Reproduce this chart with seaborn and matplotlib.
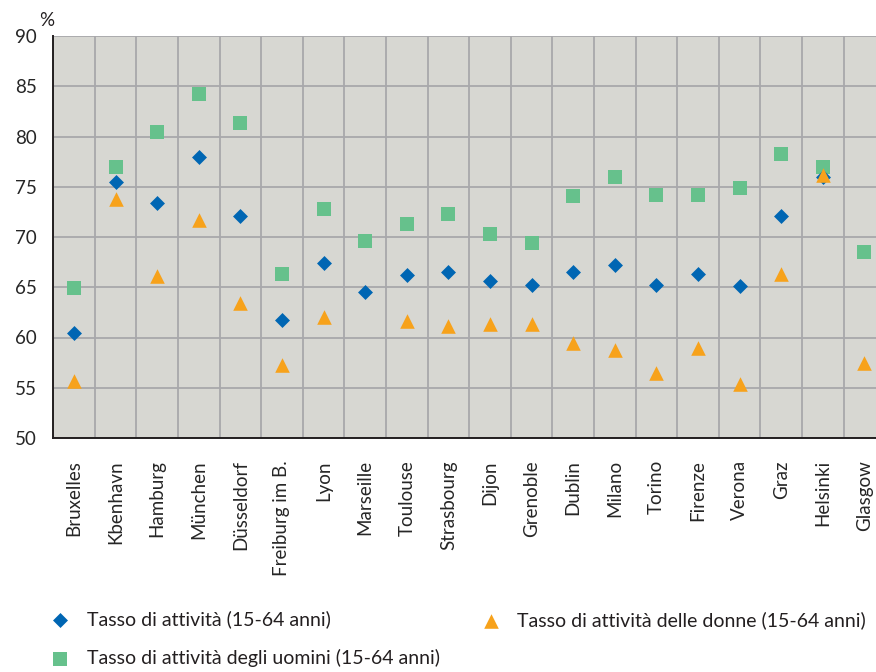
import numpy as np
import pandas as pd
import matplotlib
matplotlib.use("Agg")
import matplotlib.pyplot as plt
import seaborn as sns

# dati (%), NaN = valore mancante
citta = ["Bruxelles", "Kbenhavn", "Hamburg", "München", "Düsseldorf",
         "Freiburg im B.", "Lyon", "Marseille", "Toulouse", "Strasbourg",
         "Dijon", "Grenoble", "Dublin", "Milano", "Torino", "Firenze",
         "Verona", "Graz", "Helsinki", "Glasgow"]
totale = [60.4, 75.5, 73.4, 78.0, 72.1, 61.7, 67.4, 64.5, 66.2, 66.5,
          65.6, 65.2, 66.5, 67.2, 65.2, 66.3, 65.1, 72.1, 76.0, np.nan]
uomini = [64.9, 77.0, 80.4, 84.2, 81.3, 66.3, 72.8, 69.6, 71.3, 72.3,
          70.3, 69.4, 74.1, 76.0, 74.2, 74.2, 74.9, 78.3, 77.0, 68.5]
donne = [55.7, 73.8, 66.1, 71.7, 63.4, 57.3, 62.0, np.nan, 61.6, 61.1,
         61.3, 61.3, 59.5, 58.8, 56.5, 59.0, 55.4, 66.3, 76.2, 57.5]

lab_tot = "Tasso di attività (15-64 anni)"
lab_uom = "Tasso di attività degli uomini (15-64 anni)"
lab_don = "Tasso di attività delle donne (15-64 anni)"

df = pd.DataFrame({"citta": citta, "totale": totale,
                   "uomini": uomini, "donne": donne})

sns.set_style("white")
plt.rcParams['font.family'] = ['Lato', 'DejaVu Sans']
plt.rcParams['text.color'] = '#231f20'

fig = plt.figure(figsize=(8.76, 6.72), dpi=100)
W, H = 876, 672
ax = fig.add_axes([53.2 / W, (H - 438) / H, 832 / W, 402 / H])
ax.set_facecolor('#d7d7d2')

# quadrati, poi rombi, poi triangoli (ordine di sovrapposizione)
sns.scatterplot(data=df, x="citta", y="uomini", marker="s", s=110,
                color="#66c18c", linewidth=0, ax=ax, label=lab_uom, zorder=3)
sns.scatterplot(data=df, x="citta", y="totale", marker="D", s=58,
                color="#0066b3", linewidth=0, ax=ax, label=lab_tot, zorder=4)
sns.scatterplot(data=df, x="citta", y="donne", marker="^", s=110,
                color="#f7a21b", linewidth=0, ax=ax, label=lab_don, zorder=5)

ax.set_xlim(-0.5, len(citta) - 0.5)
ax.set_ylim(50, 90)
ax.set_yticks(np.arange(50, 91, 5))
ax.set_xlabel("")
ax.set_ylabel("")

# griglia: orizzontale sui valori, verticale tra le città
ax.set_xticks(np.arange(len(citta)))
ax.set_xticklabels(citta, rotation=90, fontsize=13.5, va="top")
ax.set_xticks(np.arange(len(citta) + 1) - 0.5, minor=True)
ax.grid(True, which="major", axis="y", color="#a8a8ab", lw=1.3)
ax.grid(True, which="minor", axis="x", color="#a8a8ab", lw=1.3)
ax.set_axisbelow(True)
ax.tick_params(axis="x", which="major", length=0, pad=16)
ax.tick_params(axis="x", which="minor", length=9, width=1.2,
               color="#231f20", direction="out")
ax.tick_params(axis="y", length=9.5, width=1.2, color="#231f20",
               pad=2, labelsize=13.5, direction="out")

for s in ["top", "right"]:
    ax.spines[s].set_visible(False)
for s in ["left", "bottom"]:
    ax.spines[s].set_color("#231f20")
    ax.spines[s].set_linewidth(1.4)

fig.text(47 / W, 1 - 20 / H, "%", fontsize=13.5, ha="center", va="center")

handles, labels = ax.get_legend_handles_labels()
hd = dict(zip(labels, handles))
ax.get_legend().remove()

common = dict(frameon=False, fontsize=14, handlelength=1.0,
              handletextpad=0.87, borderpad=0, borderaxespad=0,
              loc="upper left", bbox_transform=fig.transFigure)
fig.legend([hd[lab_tot], hd[lab_uom]], [lab_tot, lab_uom],
           bbox_to_anchor=(50.3 / W, 1 - 610 / H), labelspacing=1.1,
           **common)
fig.legend([hd[lab_don]], [lab_don],
           bbox_to_anchor=(481 / W, 1 - 611 / H), **common)

fig.savefig("out.png", dpi=100)
